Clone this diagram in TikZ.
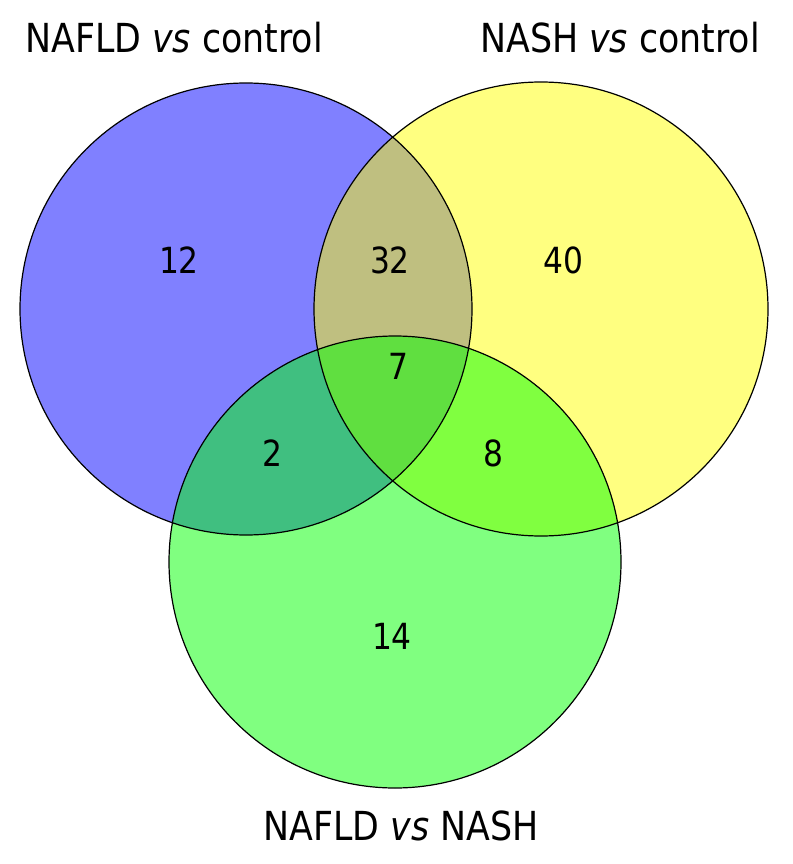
\documentclass[tikz,border=0pt]{standalone}
\usepackage{fontspec}
\setmainfont{DejaVu Sans}[FakeStretch=0.87]
\definecolor{cblue}{RGB}{128,128,255}
\definecolor{cyellow}{RGB}{255,255,128}
\definecolor{cgreen}{RGB}{128,255,128}
\definecolor{cbrown}{RGB}{191,191,128}
\definecolor{cteal}{RGB}{64,191,128}
\definecolor{clime}{RGB}{128,255,64}
\definecolor{ccenter}{RGB}{96,223,64}
\tikzset{
  setlabel/.style={font=\fontsize{40}{48}\selectfont, inner sep=0pt},
  count/.style={font=\fontsize{36}{42}\selectfont, inner sep=0pt},
  outline/.style={draw=black, line width=1.2pt},
}
\begin{document}
\begin{tikzpicture}[x=1pt,y=-1pt]
\useasboundingbox (0,0) rectangle (792,864);
\coordinate (cb) at (246,309);
\coordinate (cy) at (541,309);
\coordinate (cg) at (395,562);
\def\rb{226}
\def\ry{227}
\def\rg{226}
% base fills
\fill[cblue] (cb) circle (\rb);
\fill[cyellow] (cy) circle (\ry);
\fill[cgreen] (cg) circle (\rg);
% pairwise overlaps
\begin{scope}
  \clip (cb) circle (\rb);
  \fill[cbrown] (cy) circle (\ry);
  \fill[cteal] (cg) circle (\rg);
\end{scope}
\begin{scope}
  \clip (cy) circle (\ry);
  \fill[clime] (cg) circle (\rg);
\end{scope}
\begin{scope}
  \clip (cb) circle (\rb);
  \clip (cy) circle (\ry);
  \fill[ccenter] (cg) circle (\rg);
\end{scope}
% outlines
\draw[outline] (cb) circle (\rb);
\draw[outline] (cy) circle (\ry);
\draw[outline] (cg) circle (\rg);
% labels
\node[setlabel] (lb) at (174,38) {NAFLD \textit{vs} control};
\node[setlabel] (ly) at (620,38) {NASH \textit{vs} control};
\node[setlabel] (lg) at (401,826) {NAFLD \textit{vs} NASH};
% counts
\node[count] (n12) at (179,260) {12};
\node[count] (n32) at (390,260) {32};
\node[count] (n40) at (563,260) {40};
\node[count] (n7) at (398,366) {7};
\node[count] (n2) at (272,453) {2};
\node[count] (n8) at (493,453) {8};
\node[count] (n14) at (392,636) {14};
\end{tikzpicture}
\end{document}
